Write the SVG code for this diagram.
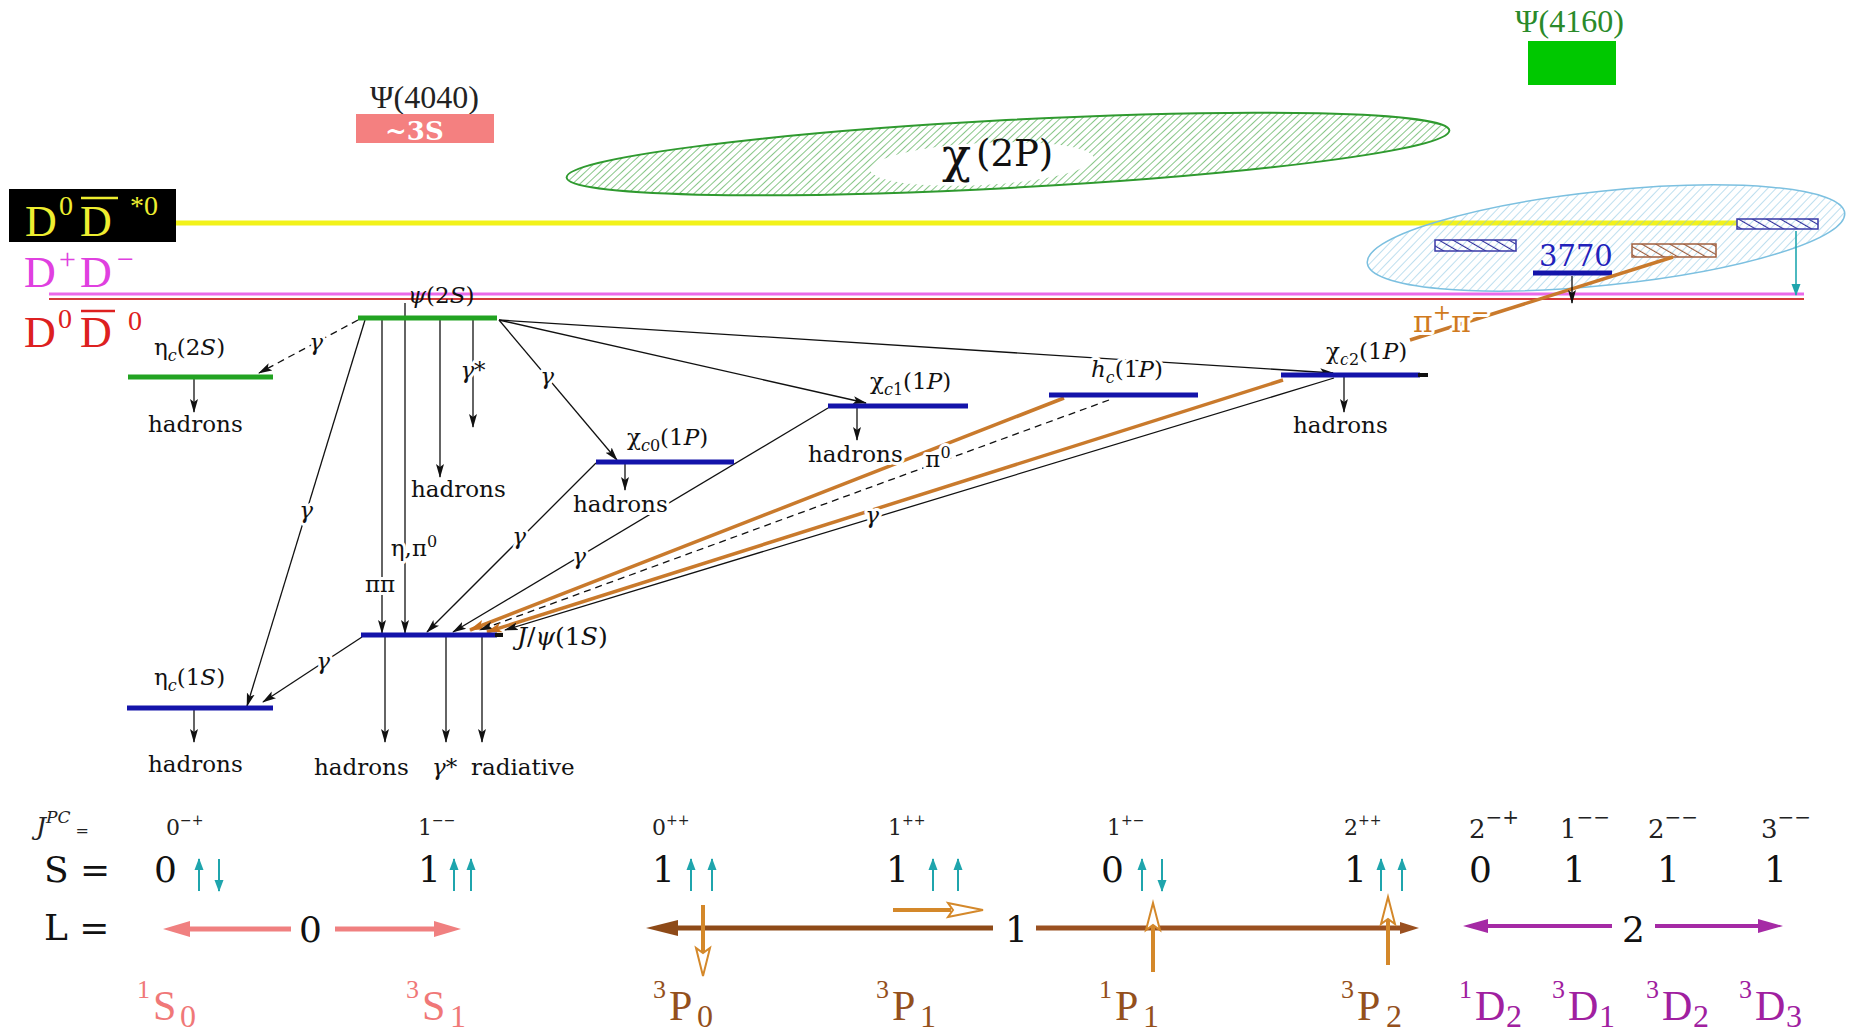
<svg xmlns="http://www.w3.org/2000/svg" width="1854" height="1033" viewBox="0 0 1854 1033">
<defs>
<style>
text{font-family:"DejaVu Serif","Liberation Serif",serif;}
.tm{font-family:"Liberation Serif","Times New Roman",serif;}
.lab{font-size:23px;fill:#111}
.it{font-style:italic}
.hal{paint-order:stroke;stroke:#fff;stroke-width:6px;stroke-linejoin:round}
.c{stroke:#111;stroke-width:1.3;fill:none}
.ca{stroke:#111;stroke-width:1.3;fill:none;marker-end:url(#ah)}
.dash{stroke-dasharray:7 5}
.or{stroke:#c97a2c;stroke-width:3.5;fill:none}
.ora{stroke:#c97a2c;stroke-width:3.5;fill:none;marker-end:url(#ao)}
.lb{stroke:#1414aa;stroke-width:5}
.lg{stroke:#22a322;stroke-width:5}
.thr{font-size:44px}
.num{font-size:36px;fill:#111}
.jpc{font-size:22px;fill:#222}
.spec{font-family:"Liberation Serif","Times New Roman",serif;font-size:42px}
.sal{fill:#f07878}
.brn{fill:#94501c}
.pur{fill:#a020a0}
.spin{stroke:#1fa5ad;stroke-width:2;marker-end:url(#at)}
.opn{stroke:#d4882a;stroke-width:4}
.oph{fill:#fff;stroke:#d4882a;stroke-width:2}
</style>
<marker id="ah" viewBox="0 0 14 10" refX="13" refY="5" markerWidth="14" markerHeight="10" markerUnits="userSpaceOnUse" orient="auto"><path d="M0,1 L14,5 L0,9 L3,5 z" fill="#111"/></marker>
<marker id="ao" viewBox="0 0 16 12" refX="15" refY="6" markerWidth="16" markerHeight="12" markerUnits="userSpaceOnUse" orient="auto"><path d="M0,1 L16,6 L0,11 L4,6 z" fill="#c8701e"/></marker>
<marker id="at" viewBox="0 0 12 10" refX="11" refY="5" markerWidth="12" markerHeight="10" markerUnits="userSpaceOnUse" orient="auto"><path d="M0,0.5 L12,5 L0,9.5 z" fill="#1fa5ad"/></marker>
<pattern id="hg" width="5" height="5" patternUnits="userSpaceOnUse" patternTransform="rotate(50)"><line x1="0" y1="0" x2="0" y2="5" stroke="#37a037" stroke-width="1.2"/></pattern>
<pattern id="hl" width="6" height="6" patternUnits="userSpaceOnUse" patternTransform="rotate(50)"><line x1="0" y1="0" x2="0" y2="6" stroke="#88c4e2" stroke-width="1.1"/></pattern>
<pattern id="hb" width="7" height="7" patternUnits="userSpaceOnUse" patternTransform="rotate(-60)"><line x1="0" y1="0" x2="0" y2="7" stroke="#2a2a99" stroke-width="2.2"/></pattern>
<pattern id="hbr" width="7" height="7" patternUnits="userSpaceOnUse" patternTransform="rotate(-60)"><line x1="0" y1="0" x2="0" y2="7" stroke="#9a5a3a" stroke-width="2.2"/></pattern>
</defs>
<rect width="1854" height="1033" fill="#fff"/>

<g id="thresholds">
<rect x="9" y="189" width="167" height="53" fill="#000"/>
<line x1="176" y1="223" x2="1737" y2="223" stroke="#f2f21a" stroke-width="5"/>
<line x1="49" y1="294" x2="1804" y2="294" stroke="#ea6aea" stroke-width="3"/>
<line x1="49" y1="299" x2="1804" y2="299" stroke="#d43a3a" stroke-width="1.8"/>
<text class="tm thr" fill="#eeee30"><tspan x="25" y="236">D</tspan><tspan x="59" y="215" font-size="28">0</tspan><tspan x="80" y="236">D</tspan><tspan x="130" y="215" font-size="28">*0</tspan></text>
<line x1="81" y1="198" x2="118" y2="198" stroke="#eeee30" stroke-width="2.5"/>
<text class="tm thr" fill="#e040e0"><tspan x="24" y="287">D</tspan><tspan x="59" y="269" font-size="30">+</tspan><tspan x="80" y="287">D</tspan><tspan x="117" y="269" font-size="30">−</tspan></text>
<text class="tm thr" fill="#dd2020"><tspan x="24" y="347">D</tspan><tspan x="58" y="328" font-size="28">0</tspan><tspan x="80" y="347">D</tspan><tspan x="128" y="330" font-size="28">0</tspan></text>
<line x1="81" y1="311" x2="115" y2="311" stroke="#dd2020" stroke-width="2.5"/>
</g>

<g id="psi4040">
<text class="tm" x="370" y="108" font-size="32" fill="#222">Ψ(4040)</text>
<rect x="356" y="114" width="138" height="29" fill="#f48080"/>
<text x="385" y="140" font-size="26" font-weight="bold" fill="#fff">~3S</text>
</g>

<g id="psi4160">
<text class="tm" x="1515" y="32" font-size="32" fill="#2a8a2a">Ψ(4160)</text>
<rect x="1528" y="41" width="88" height="44" fill="#00c800"/>
</g>

<g id="chi2P">
<ellipse cx="1008" cy="154" rx="442" ry="34" transform="rotate(-3.05 1008 154)" fill="url(#hg)" stroke="#2f9a2f" stroke-width="2"/>
<ellipse cx="982" cy="164" rx="112" ry="21" transform="rotate(-3 982 164)" fill="#fff"/>
<text x="942" y="172" font-size="48" fill="#111">χ</text>
<text x="976" y="166" font-size="37" fill="#111">(2P)</text>
</g>

<g id="psi3770-region">
<ellipse cx="1606" cy="238" rx="240" ry="47" transform="rotate(-6 1606 238)" fill="url(#hl)" stroke="#7cc0e0" stroke-width="1.5"/>
<rect x="1435" y="240" width="81" height="11" fill="url(#hb)" stroke="#3a3aa8" stroke-width="1.5"/>
<rect x="1737" y="219" width="81" height="10" fill="url(#hb)" stroke="#3a3aa8" stroke-width="1.5"/>
<rect x="1632" y="244" width="84" height="13" fill="url(#hbr)" stroke="#a06040" stroke-width="1.5"/>
<text x="1539" y="266" font-size="29" fill="#2222bb">3770</text>
<line class="lb" x1="1533" y1="273" x2="1612" y2="273" stroke-width="7"/>
</g>

<g id="connectors">
<line class="ca dash" x1="358" y1="320" x2="259" y2="373"/>
<line class="ca" x1="365" y1="320" x2="247" y2="706"/>
<line class="ca" x1="382" y1="320" x2="382" y2="633"/>
<line class="ca" x1="405" y1="303" x2="405" y2="633"/>
<line class="ca" x1="440" y1="320" x2="440" y2="477"/>
<line class="ca" x1="473" y1="320" x2="473" y2="427"/>
<line class="ca" x1="499" y1="320" x2="617" y2="460"/>
<line class="ca" x1="499" y1="320" x2="866" y2="403"/>
<line class="ca" x1="499" y1="320" x2="1333" y2="373"/>
<line class="ca" x1="362" y1="637" x2="263" y2="702"/>
<line class="ca" x1="596" y1="463" x2="427" y2="632"/>
<line class="ca" x1="828" y1="408" x2="453" y2="632"/>
<line class="ora" x1="1064" y1="398" x2="470" y2="630"/>
<line class="ca dash" x1="1109" y1="400" x2="480" y2="630"/>
<line class="or" x1="1673" y1="257" x2="1410" y2="340"/>
<line class="ora" x1="1283" y1="380" x2="487" y2="632"/>
<line class="ca" x1="1334" y1="378" x2="505" y2="630"/>
<line class="ca" x1="194" y1="379" x2="194" y2="412"/>
<line class="ca" x1="194" y1="710" x2="194" y2="742"/>
<line class="ca" x1="625" y1="464" x2="625" y2="490"/>
<line class="ca" x1="857" y1="408" x2="857" y2="440"/>
<line class="ca" x1="1344" y1="377" x2="1344" y2="412"/>
<line class="ca" x1="385" y1="637" x2="385" y2="742"/>
<line class="ca" x1="446" y1="637" x2="446" y2="742"/>
<line class="ca" x1="482" y1="637" x2="482" y2="742"/>
<line class="ca" x1="1572" y1="276" x2="1572" y2="303"/>
<line x1="1796" y1="231" x2="1796" y2="295" stroke="#20a8b0" stroke-width="1.6" marker-end="url(#at)"/>
<g class="lab it hal" text-anchor="middle">
<text x="316" y="350">γ</text>
<text x="306" y="518">γ</text>
<text x="323" y="669">γ</text>
<text x="547" y="384">γ</text>
<text x="519" y="544">γ</text>
<text x="579" y="564">γ</text>
<text x="872" y="523">γ</text>
<text x="473" y="378">γ*</text>
</g>
<g class="lab hal" text-anchor="middle">
<text x="938" y="467">π<tspan font-size="16" dy="-9">0</tspan></text>
<text x="380" y="592">ππ</text>
<text x="414" y="556">η,π<tspan font-size="16" dy="-9">0</tspan></text>
</g>
<text class="hal" x="1413" y="332" font-size="30" fill="#d07a20">π<tspan font-size="22" dy="-12">+</tspan><tspan dy="12">π</tspan><tspan font-size="22" dy="-12">−</tspan></text>
</g>

<g id="psi2S">
<line class="lg" x1="358" y1="318" x2="497" y2="318"/>
<text class="lab" x="408" y="303" fill="#4a1424"><tspan class="it">ψ</tspan>(2<tspan class="it">S</tspan>)</text>
<text class="lab hal" x="411" y="497">hadrons</text>
</g>
<g id="etac2S">
<line class="lg" x1="128" y1="377" x2="273" y2="377"/>
<text class="lab" x="154" y="355">η<tspan class="it" font-size="16" dy="6">c</tspan><tspan dy="-6">(2</tspan><tspan class="it">S</tspan>)</text>
<text class="lab" x="148" y="432">hadrons</text>
</g>
<g id="etac1S">
<line class="lb" x1="127" y1="708" x2="273" y2="708"/>
<text class="lab" x="154" y="685">η<tspan class="it" font-size="16" dy="6">c</tspan><tspan dy="-6">(1</tspan><tspan class="it">S</tspan>)</text>
<text class="lab" x="148" y="772">hadrons</text>
</g>
<g id="jpsi">
<line class="lb" x1="361" y1="635" x2="497" y2="635"/>
<line x1="495" y1="635" x2="503" y2="635" stroke="#111" stroke-width="4"/>
<text x="517" y="645" font-size="25" fill="#111"><tspan class="it">J</tspan>/<tspan class="it">ψ</tspan>(1<tspan class="it">S</tspan>)</text>
<text class="lab" x="314" y="775">hadrons</text>
<text class="lab it" x="432" y="775">γ*</text>
<text class="lab" x="471" y="775">radiative</text>
</g>
<g id="chic0">
<line class="lb" x1="596" y1="462" x2="734" y2="462"/>
<text class="lab" x="627" y="445">χ<tspan font-size="16" dy="6"><tspan class="it">c</tspan>0</tspan><tspan dy="-6">(1</tspan><tspan class="it">P</tspan>)</text>
<text class="lab hal" x="573" y="512">hadrons</text>
</g>
<g id="chic1">
<line class="lb" x1="828" y1="406" x2="968" y2="406"/>
<text class="lab" x="870" y="389">χ<tspan font-size="16" dy="6"><tspan class="it">c</tspan>1</tspan><tspan dy="-6">(1</tspan><tspan class="it">P</tspan>)</text>
<text class="lab hal" x="808" y="462">hadrons</text>
</g>
<g id="hc">
<line class="lb" x1="1049" y1="395" x2="1198" y2="395"/>
<text class="lab hal" x="1091" y="377"><tspan class="it">h</tspan><tspan class="it" font-size="16" dy="6">c</tspan><tspan dy="-6">(1</tspan><tspan class="it">P</tspan>)</text>
</g>
<g id="chic2">
<line class="lb" x1="1281" y1="375" x2="1420" y2="375"/>
<line x1="1418" y1="375" x2="1428" y2="375" stroke="#111" stroke-width="4"/>
<text class="lab hal" x="1326" y="359">χ<tspan font-size="16" dy="6"><tspan class="it">c</tspan>2</tspan><tspan dy="-6">(1</tspan><tspan class="it">P</tspan>)</text>
<text class="lab" x="1293" y="433">hadrons</text>
</g>

<g id="quantum-numbers">
<text x="36" y="835" font-size="25" fill="#222"><tspan class="it">J</tspan><tspan class="it" font-size="17" dy="-12">PC</tspan><tspan font-size="16" dy="13"> =</tspan></text>
<g class="jpc">
<text x="166" y="835">0<tspan font-size="14" dy="-10">−+</tspan></text>
<text x="418" y="835">1<tspan font-size="14" dy="-10">−−</tspan></text>
<text x="652" y="835">0<tspan font-size="14" dy="-10">++</tspan></text>
<text x="888" y="835">1<tspan font-size="14" dy="-10">++</tspan></text>
<text x="1107" y="835">1<tspan font-size="14" dy="-10">+−</tspan></text>
<text x="1344" y="835">2<tspan font-size="14" dy="-10">++</tspan></text>
</g>
<g font-size="26" fill="#222">
<text x="1469" y="838">2<tspan font-size="20" dy="-14">−+</tspan></text>
<text x="1560" y="838">1<tspan font-size="20" dy="-14">−−</tspan></text>
<text x="1648" y="838">2<tspan font-size="20" dy="-14">−−</tspan></text>
<text x="1761" y="838">3<tspan font-size="20" dy="-14">−−</tspan></text>
</g>
<g class="num">
<text x="44" y="882">S =</text>
<text x="44" y="940">L =</text>
<text x="154" y="882">0</text>
<text x="418" y="882">1</text>
<text x="652" y="882">1</text>
<text x="886" y="882">1</text>
<text x="1101" y="882">0</text>
<text x="1344" y="882">1</text>
<text x="1469" y="882">0</text>
<text x="1563" y="882">1</text>
<text x="1657" y="882">1</text>
<text x="1764" y="882">1</text>
<text x="299" y="942">0</text>
<text x="1005" y="942">1</text>
<text x="1622" y="942">2</text>
</g>
<line class="spin" x1="199" y1="891" x2="199" y2="859"/>
<line class="spin" x1="219" y1="859" x2="219" y2="891"/>
<line class="spin" x1="454" y1="891" x2="454" y2="859"/>
<line class="spin" x1="471" y1="891" x2="471" y2="859"/>
<line class="spin" x1="691" y1="891" x2="691" y2="859"/>
<line class="spin" x1="712" y1="891" x2="712" y2="859"/>
<line class="spin" x1="933" y1="891" x2="933" y2="859"/>
<line class="spin" x1="958" y1="891" x2="958" y2="859"/>
<line class="spin" x1="1142" y1="891" x2="1142" y2="859"/>
<line class="spin" x1="1162" y1="859" x2="1162" y2="891"/>
<line class="spin" x1="1381" y1="891" x2="1381" y2="859"/>
<line class="spin" x1="1402" y1="891" x2="1402" y2="859"/>
</g>

<g id="L-arrows">
<line x1="188" y1="929" x2="291" y2="929" stroke="#f08080" stroke-width="5"/>
<polygon points="163,929 190,921 190,937" fill="#f08080"/>
<line x1="335" y1="929" x2="436" y2="929" stroke="#f08080" stroke-width="5"/>
<polygon points="461,929 434,921 434,937" fill="#f08080"/>
<line x1="676" y1="928" x2="993" y2="928" stroke="#8e4a18" stroke-width="5"/>
<polygon points="646,928 678,920 678,936" fill="#8e4a18"/>
<line x1="1036" y1="928" x2="1403" y2="928" stroke="#9a5020" stroke-width="5"/>
<polygon points="1419,928 1400,922 1400,934" fill="#9a5020"/>
<line x1="1486" y1="926" x2="1612" y2="926" stroke="#a52aa5" stroke-width="4"/>
<polygon points="1463,926 1488,919 1488,933" fill="#a52aa5"/>
<line x1="1655" y1="926" x2="1760" y2="926" stroke="#a52aa5" stroke-width="4"/>
<polygon points="1783,926 1758,919 1758,933" fill="#a52aa5"/>
<line class="opn" x1="703" y1="905" x2="703" y2="952"/>
<polygon class="oph" points="696,948 703,976 710,948 703,953"/>
<line class="opn" x1="893" y1="910" x2="951" y2="910"/>
<polygon class="oph" points="948,903 983,910 948,917 953,910"/>
<line class="opn" x1="1153" y1="972" x2="1153" y2="926"/>
<polygon class="oph" points="1146,930 1153,903 1160,930 1153,925"/>
<line class="opn" x1="1388" y1="965" x2="1388" y2="920"/>
<polygon class="oph" points="1381,924 1388,897 1395,924 1388,919"/>
</g>

<g id="spectroscopic">
<text class="spec sal"><tspan x="137" y="998" font-size="26">1</tspan><tspan x="153" y="1020">S</tspan><tspan x="180" y="1027" font-size="32">0</tspan></text>
<text class="spec sal"><tspan x="406" y="998" font-size="26">3</tspan><tspan x="422" y="1020">S</tspan><tspan x="450" y="1027" font-size="32">1</tspan></text>
<text class="spec brn"><tspan x="653" y="998" font-size="26">3</tspan><tspan x="669" y="1020">P</tspan><tspan x="697" y="1027" font-size="32">0</tspan></text>
<text class="spec brn"><tspan x="876" y="998" font-size="26">3</tspan><tspan x="892" y="1020">P</tspan><tspan x="920" y="1027" font-size="32">1</tspan></text>
<text class="spec brn"><tspan x="1099" y="998" font-size="26">1</tspan><tspan x="1115" y="1020">P</tspan><tspan x="1143" y="1027" font-size="32">1</tspan></text>
<text class="spec brn"><tspan x="1341" y="998" font-size="26">3</tspan><tspan x="1357" y="1020">P</tspan><tspan x="1386" y="1027" font-size="32">2</tspan></text>
<text class="spec pur"><tspan x="1459" y="998" font-size="26">1</tspan><tspan x="1475" y="1020">D</tspan><tspan x="1506" y="1027" font-size="32">2</tspan></text>
<text class="spec pur"><tspan x="1552" y="998" font-size="26">3</tspan><tspan x="1568" y="1020">D</tspan><tspan x="1599" y="1027" font-size="32">1</tspan></text>
<text class="spec pur"><tspan x="1646" y="998" font-size="26">3</tspan><tspan x="1662" y="1020">D</tspan><tspan x="1693" y="1027" font-size="32">2</tspan></text>
<text class="spec pur"><tspan x="1739" y="998" font-size="26">3</tspan><tspan x="1755" y="1020">D</tspan><tspan x="1786" y="1027" font-size="32">3</tspan></text>
</g>
</svg>
